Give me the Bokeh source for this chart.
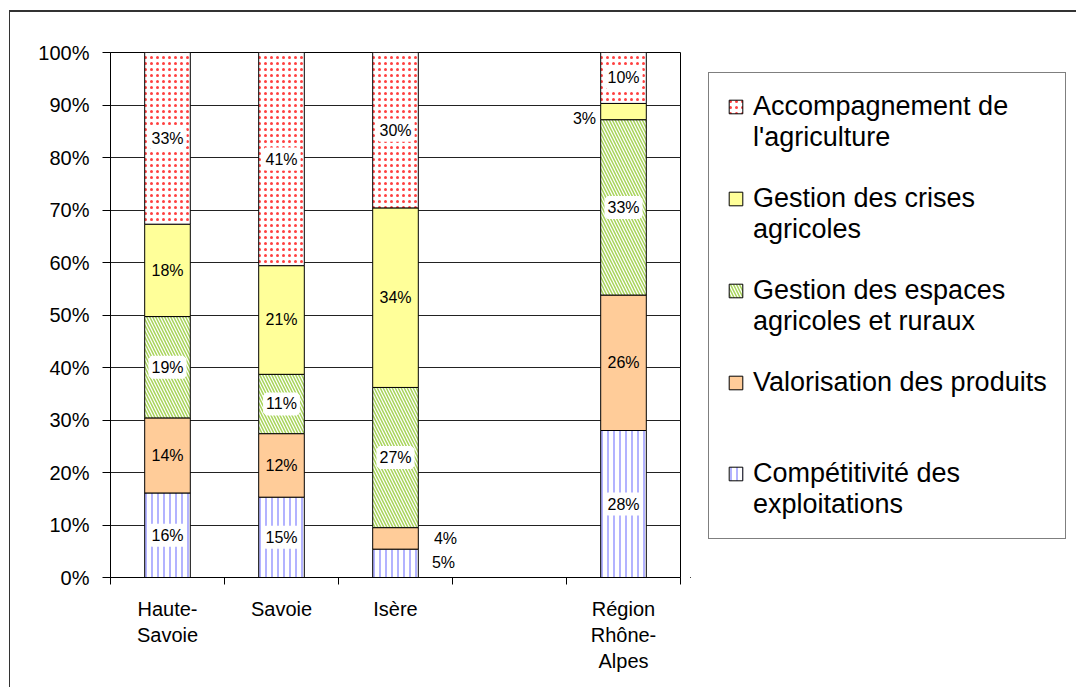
from bokeh.plotting import figure
from bokeh.layouts import row
from bokeh.models import (ColumnDataSource, FixedTicker, PrintfTickFormatter, Legend,
                          LegendItem, LabelSet, Range1d)
from bokeh.core.properties import value
from bokeh.embed import file_html
from bokeh.resources import INLINE

# ---------------- data ----------------
categories = ["Haute-Savoie", "Savoie", "Isère", "", "Région Rhône-Alpes"]
bar_categories = ["Haute-Savoie", "Savoie", "Isère", "Région Rhône-Alpes"]

series = ["Compétitivité des exploitations", "Valorisation des produits",
          "Gestion des espaces agricoles et ruraux", "Gestion des crises agricoles",
          "Accompagnement de l'agriculture"]
competitivite = [16.1, 15.3, 5.4, 28.0]
valorisation = [14.3, 12.1, 4.1, 25.8]
espaces = [19.3, 11.3, 26.7, 33.4]
crises = [17.6, 20.7, 34.2, 3.1]
accompagnement = [32.7, 40.6, 29.6, 9.7]
values = [competitivite, valorisation, espaces, crises, accompagnement]

y_ticks = [0, 10, 20, 30, 40, 50, 60, 70, 80, 90, 100]

# ---------------- styles ----------------
FONT = "Liberation Sans"
wrapped = {"Haute-Savoie": "Haute-\nSavoie", "Région Rhône-Alpes": "Région\nRhône-\nAlpes"}
# legend text split in lines, each entry occupies 3 line slots
legend_lines = {
    "Accompagnement de l'agriculture": ["Accompagnement de", "l'agriculture", " "],
    "Gestion des crises agricoles": ["Gestion des crises", "agricoles", " "],
    "Gestion des espaces agricoles et ruraux": ["Gestion des espaces", "agricoles et ruraux", " "],
    "Valorisation des produits": ["Valorisation des produits", " ", " "],
    "Compétitivité des exploitations": ["Compétitivité des", "exploitations"],
}
styles = [
    dict(fill_color="white", hatch_pattern="vertical_line", hatch_color="#9999ff", hatch_scale=6, hatch_weight=1.5),
    dict(fill_color="#ffcc99"),
    dict(fill_color="white", hatch_pattern="left_diagonal_line", hatch_color="#a8d45a", hatch_scale=6, hatch_weight=1.5),
    dict(fill_color="#ffff99"),
    dict(fill_color="white", hatch_pattern="dot", hatch_color="#ff4040", hatch_scale=6, hatch_weight=1),
]
hatched = [True, False, True, False, True]
# label offsets (screen px) for labels moved outside small segments
label_offsets = {("Isère", 0): (48, 1), ("Isère", 1): (50, 0), ("Région Rhône-Alpes", 3): (-39, -7)}

# ---------------- main figure ----------------
WP, H = 680, 675
FR_RIGHT, FR_BOTTOM = 670, 565
p = figure(width=WP, height=H, output_backend="svg", toolbar_location=None,
           x_range=Range1d(0, len(categories)), y_range=Range1d(0, 100),
           min_border_left=100, min_border_right=WP - FR_RIGHT, min_border_top=40,
           min_border_bottom=H - FR_BOTTOM)
p.outline_line_color = "black"
p.outline_line_width = 1
p.background_fill_color = "white"

xs = [categories.index(c) + 0.5 for c in bar_categories]

bottoms = [0.0] * len(bar_categories)
lab_hatch = dict(x=[], y=[], text=[], xo=[], yo=[])
lab_plain = dict(x=[], y=[], text=[], xo=[], yo=[])
for si, vals in enumerate(values):
    tops = [b + v for b, v in zip(bottoms, vals)]
    src = ColumnDataSource(dict(x=xs, bottom=bottoms, top=tops))
    p.vbar(x="x", bottom="bottom", top="top", width=0.4, source=src,
           line_color="black", line_width=1, **styles[si])
    for ci, cat in enumerate(bar_categories):
        d = lab_hatch if hatched[si] else lab_plain
        xo, yo = label_offsets.get((cat, si), (0, 0))
        if (cat, si) in label_offsets:
            d = lab_plain
        d["x"].append(xs[ci])
        d["y"].append((bottoms[ci] + tops[ci]) / 2)
        d["text"].append(f"{vals[ci]:.0f}%")
        d["xo"].append(xo)
        d["yo"].append(yo)
    bottoms = tops

ls1 = LabelSet(x="x", y="y", text="text", x_offset="xo", y_offset="yo",
               source=ColumnDataSource(lab_hatch), text_align="center", text_baseline="middle",
               text_font=value(FONT), text_font_size=value("16px"), text_color="black",
               background_fill_color="white", background_fill_alpha=1.0,
               border_line_color="white", border_line_width=6)
ls2 = LabelSet(x="x", y="y", text="text", x_offset="xo", y_offset="yo",
               source=ColumnDataSource(lab_plain), text_align="center", text_baseline="middle",
               text_font=value(FONT), text_font_size=value("16px"), text_color="black")
p.add_layout(ls1)
p.add_layout(ls2)

p.xgrid.visible = False
p.ygrid.grid_line_color = "#222222"
p.ygrid.grid_line_width = 1
p.ygrid.ticker = FixedTicker(ticks=y_ticks)

p.yaxis.ticker = FixedTicker(ticks=y_ticks)
p.yaxis.formatter = PrintfTickFormatter(format="%d%%")
p.yaxis.major_tick_out = 8
p.yaxis.major_tick_in = 0
p.yaxis.minor_tick_out = 0
p.yaxis.minor_tick_in = 0
p.yaxis.axis_line_color = "black"
p.yaxis.major_tick_line_color = "black"
p.yaxis.major_label_text_font = FONT
p.yaxis.major_label_text_font_size = "20px"
p.yaxis.major_label_text_color = "black"
p.yaxis.major_label_standoff = 13

centers = [i + 0.5 for i in range(len(categories))]
bounds = [float(i) for i in range(len(categories) + 1)]
p.xaxis.ticker = FixedTicker(ticks=centers, minor_ticks=bounds)
p.xaxis.major_label_overrides = {c: wrapped.get(n, n) for c, n in zip(centers, categories)}
p.xaxis.major_tick_out = 0
p.xaxis.major_tick_in = 0
p.xaxis.minor_tick_out = 7
p.xaxis.minor_tick_in = 0
p.xaxis.minor_tick_line_color = "black"
p.xaxis.axis_line_color = "black"
p.xaxis.major_label_text_font = FONT
p.xaxis.major_label_text_font_size = "20px"
p.xaxis.major_label_text_color = "black"
p.xaxis.major_label_standoff = 13

# ---------------- legend figure ----------------
WQ = 386
q = figure(width=WQ, height=H, output_backend="svg", toolbar_location=None,
           x_range=Range1d(0, 1), y_range=Range1d(0, 1),
           x_axis_location=None, y_axis_location=None,
           min_border=0, min_border_left=0, min_border_right=0,
           min_border_top=0, min_border_bottom=0)
q.grid.visible = False
q.outline_line_color = None

blank = q.vbar(x=[-5], top=[0], width=0.1, fill_alpha=0, line_alpha=0)
items = []
for si in reversed(range(len(series))):
    rr = q.vbar(x=[-5], top=[0], width=0.1, line_color="black", line_width=1, **styles[si])
    lines = legend_lines[series[si]]
    items.append(LegendItem(label=lines[0], renderers=[rr]))
    for ln in lines[1:]:
        items.append(LegendItem(label=ln, renderers=[blank]))

legend = Legend(items=items, location=(18, 38), orientation="vertical",
                label_text_font=FONT, label_text_font_size="27px", label_text_color="black",
                glyph_width=17, glyph_height=17, label_standoff=9,
                label_width=293, label_height=30, spacing=0, padding=18, margin=0,
                border_line_color="black", border_line_width=1,
                background_fill_color="white", background_fill_alpha=1.0)
q.add_layout(legend)

layout = row(p, q)
layout.styles = {"border-top": "2px solid #333333", "border-left": "1px solid #333333",
                 "margin-left": "9px", "margin-top": "10px"}

open("out.html", "w").write(file_html(layout, INLINE))
